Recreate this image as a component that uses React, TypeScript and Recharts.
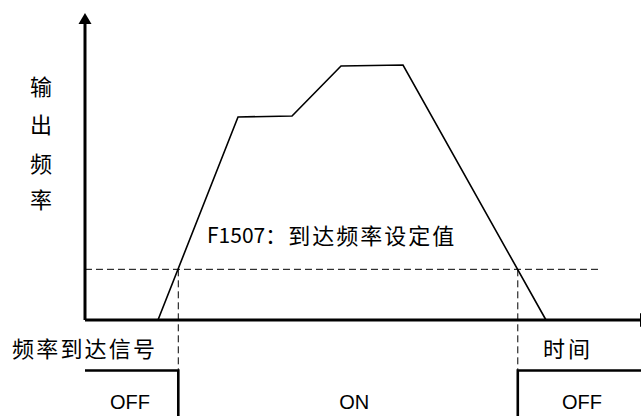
import React from 'react';
import { ComposedChart, Line, XAxis, YAxis, ReferenceLine, ReferenceDot } from 'recharts';

// coordinate system: time (x) and frequency / signal level (y)
const X_DOMAIN: [number, number] = [-15.315, 100.18];
const Y_DOMAIN: [number, number] = [-31.47, 104.92];

// output frequency curve
const freqTime = [13.15, 27.57, 37.3, 46.13, 57.3, 83.06];
const freqValue = [0, 66.56, 66.89, 83.28, 83.6, 0];

// frequency-reached setting (F1507)
const thresholdValue = 16.62;
const thresholdEnd = 92.6;
const crossTimes = [16.81, 77.98];

// frequency-reached output signal
const OFF_LEVEL = -16.56;
const ON_LEVEL = -40;
const signalTime = [0, 16.81, 16.81, 77.98, 77.98, 100.18];
const signalValue = [OFF_LEVEL, OFF_LEVEL, ON_LEVEL, ON_LEVEL, OFF_LEVEL, OFF_LEVEL];

// axes
const axisTop = 97.4;
const axisTip = 100.66;
const axisRight = 100;

// labels
const yTitleChars = ['输', '出', '频', '率'];
const yTitleValues = [77.05, 64.6, 51.8, 40.0];
const yTitleTime = -7.93;
const thresholdLabel = 'F1507：';
const thresholdLabelCn = '到达频率设定值';
const signalName = '频率到达信号';
const timeName = '时间';
const stateLabels = ['OFF', 'ON', 'OFF'];
const stateTimes = [8.1, 48.5, 89.55];
const stateValue = -26.9;
const nameValue = -8.85;

const freqData = freqTime.map((t, i) => ({ t, v: freqValue[i] }));
const signalData = signalTime.map((t, i) => ({ t, v: signalValue[i] }));

const CN = '"Noto Sans CJK SC", "Noto Sans", sans-serif';
const LAT = '"Liberation Sans", Arial, sans-serif';

const textShape = (text: string, font: string, size: number, anchor: string, spacing = 0) => (p: any) => (
  <text
    x={p.cx}
    y={p.cy}
    fontFamily={font}
    fontSize={size}
    textAnchor={anchor}
    dominantBaseline="central"
    letterSpacing={spacing}
    fill="#000"
  >
    {text}
  </text>
);

const upArrow = (p: any) => (
  <polygon points={`${p.cx},${p.cy} ${p.cx - 6.5},${p.cy + 11} ${p.cx + 6.5},${p.cy + 11}`} fill="#000" />
);
const rightArrow = (p: any) => (
  <polygon points={`${p.cx},${p.cy - 7} ${p.cx + 12},${p.cy} ${p.cx},${p.cy + 7}`} fill="#000" />
);

export default function App() {
  return (
    <div style={{ position: 'absolute', left: 0, top: 0, width: 641, height: 416, background: '#fff' }}>
      <ComposedChart width={641} height={416} margin={{ top: 0, right: 0, bottom: 0, left: 0 }}>
        <XAxis type="number" dataKey="t" domain={X_DOMAIN} allowDataOverflow hide />
        <YAxis type="number" dataKey="v" domain={Y_DOMAIN} allowDataOverflow hide />

        {/* threshold */}
        <ReferenceLine
          segment={[{ x: 0, y: thresholdValue }, { x: thresholdEnd, y: thresholdValue }]}
          stroke="#000"
          strokeWidth={1}
          strokeDasharray="7 4"
        />
        {crossTimes.map((t, i) => (
          <ReferenceLine
            key={'c' + i}
            segment={[{ x: t, y: thresholdValue }, { x: t, y: OFF_LEVEL }]}
            stroke="#000"
            strokeWidth={1}
            strokeDasharray="7 4"
          />
        ))}

        {/* axes */}
        <ReferenceLine segment={[{ x: 0, y: 0 }, { x: 0, y: axisTop }]} stroke="#000" strokeWidth={3} />
        <ReferenceLine segment={[{ x: 0, y: 0 }, { x: axisRight, y: 0 }]} stroke="#000" strokeWidth={3} />
        <ReferenceDot x={0} y={axisTip} r={1} shape={upArrow} />
        <ReferenceDot x={axisRight} y={0} r={1} shape={rightArrow} />

        <Line
          data={freqData}
          dataKey="v"
          type="linear"
          stroke="#000"
          strokeWidth={1.6}
          dot={false}
          activeDot={false}
          isAnimationActive={false}
        />
        <Line
          data={signalData}
          dataKey="v"
          type="linear"
          stroke="#000"
          strokeWidth={2.6}
          dot={false}
          activeDot={false}
          isAnimationActive={false}
        />

        {yTitleChars.map((c, i) => (
          <ReferenceDot key={'y' + i} x={yTitleTime} y={yTitleValues[i]} r={1} shape={textShape(c, CN, 22, 'middle')} />
        ))}
        <ReferenceDot x={21.98} y={28.2} r={1} shape={textShape(thresholdLabel, CN, 21, 'start')} />
        <ReferenceDot x={36.6} y={28.2} r={1} shape={textShape(thresholdLabelCn, CN, 22, 'start', 2)} />
        <ReferenceDot x={-13.15} y={nameValue} r={1} shape={textShape(signalName, CN, 22, 'start', 2.2)} />
        <ReferenceDot x={82.52} y={nameValue} r={1} shape={textShape(timeName, CN, 22, 'start', 3)} />
        {stateLabels.map((s, i) => (
          <ReferenceDot key={'s' + i} x={stateTimes[i]} y={stateValue} r={1} shape={textShape(s, LAT, 20, 'middle')} />
        ))}
      </ComposedChart>
    </div>
  );
}
